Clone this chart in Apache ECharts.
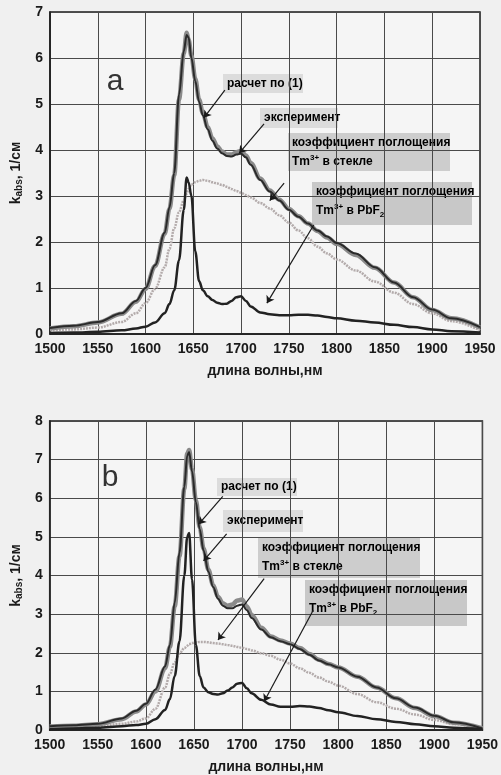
<!DOCTYPE html>
<html>
<head>
<meta charset="utf-8">
<script src="https://cdn.jsdelivr.net/npm/echarts@6/dist/echarts.min.js"></script>
<style>
  html, body { margin: 0; padding: 0; background: #f0f0f0; }
  #chart { width: 501px; height: 775px; }
</style>
</head>
<body>
<div id="chart"></div>
<script>
// длины волн, нм (общие для всех кривых)
const wl = [1500, 1525, 1550, 1575, 1590, 1600, 1610, 1620, 1625, 1630, 1635, 1640, 1643, 1645, 1648,
  1652, 1656, 1660, 1665, 1670, 1675, 1680, 1685, 1690, 1695, 1700, 1705, 1710, 1720, 1730, 1740,
  1750, 1760, 1770, 1780, 1790, 1800, 1820, 1840, 1860, 1880, 1900, 1920, 1950];

// панель a
const calcA = [0.13, 0.18, 0.26, 0.45, 0.72, 1.0, 1.5, 2.2, 2.75, 3.5, 5.2, 6.15, 6.5, 6.45, 6.0,
  5.5, 5.05, 4.75, 4.45, 4.2, 4.03, 3.93, 3.87, 3.86, 3.9, 3.92, 3.84, 3.68, 3.35, 3.1, 2.9,
  2.7, 2.55, 2.4, 2.25, 2.12, 1.98, 1.75, 1.45, 1.12, 0.8, 0.53, 0.34, 0.15];
const expA = [0.12, 0.17, 0.25, 0.44, 0.7, 0.98, 1.48, 2.18, 2.72, 3.45, 5.1, 6.1, 6.55, 6.4, 6.05,
  5.55, 5.1, 4.8, 4.5, 4.25, 4.08, 3.97, 3.9, 3.9, 3.95, 3.98, 3.88, 3.72, 3.38, 3.12, 2.92,
  2.72, 2.56, 2.4, 2.24, 2.1, 1.96, 1.72, 1.44, 1.12, 0.8, 0.52, 0.34, 0.14];
const glassA = [0.08, 0.1, 0.14, 0.26, 0.45, 0.67, 0.98, 1.45, 1.85, 2.3, 2.65, 2.9, 3.05, 3.15, 3.25,
  3.3, 3.33, 3.35, 3.33, 3.3, 3.27, 3.24, 3.2, 3.15, 3.11, 3.07, 3.02, 2.97, 2.85, 2.73, 2.58,
  2.42, 2.25, 2.08, 1.9, 1.75, 1.62, 1.38, 1.14, 0.9, 0.65, 0.45, 0.28, 0.08];
const pbfA = [0.02, 0.03, 0.05, 0.08, 0.12, 0.16, 0.25, 0.45, 0.65, 0.95, 1.6, 2.7, 3.4, 3.3, 3.0,
  1.8, 1.15, 0.95, 0.82, 0.74, 0.68, 0.65, 0.66, 0.72, 0.8, 0.82, 0.72, 0.6, 0.47, 0.43, 0.41,
  0.41, 0.42, 0.42, 0.4, 0.37, 0.34, 0.29, 0.25, 0.2, 0.15, 0.1, 0.06, 0.03];

// панель b
const calcB = [0.1, 0.12, 0.16, 0.3, 0.5, 0.68, 1.05, 1.65, 2.2, 3.3, 4.6, 6.3, 7.1, 7.2, 6.7,
  5.9, 5.2, 4.65, 4.1, 3.7, 3.4, 3.22, 3.15, 3.15, 3.22, 3.25, 3.1, 2.9, 2.6, 2.4, 2.3,
  2.22, 2.1, 1.95, 1.8, 1.7, 1.62, 1.38, 1.1, 0.82, 0.58, 0.37, 0.2, 0.04];
const expB = [0.09, 0.11, 0.15, 0.28, 0.48, 0.66, 1.0, 1.6, 2.15, 3.2, 4.5, 6.25, 7.15, 7.25, 6.75,
  5.95, 5.25, 4.7, 4.15, 3.75, 3.45, 3.28, 3.22, 3.25, 3.35, 3.38, 3.2, 2.98, 2.65, 2.42, 2.32,
  2.24, 2.12, 1.97, 1.82, 1.71, 1.62, 1.38, 1.1, 0.82, 0.57, 0.36, 0.19, 0.04];
const glassB = [0.06, 0.08, 0.1, 0.16, 0.22, 0.3, 0.55, 1.1, 1.45, 1.75, 1.98, 2.12, 2.18, 2.22, 2.25,
  2.27, 2.28, 2.28, 2.27, 2.25, 2.24, 2.22, 2.2, 2.18, 2.15, 2.13, 2.1, 2.06, 1.99, 1.92, 1.82,
  1.72, 1.6, 1.48, 1.36, 1.25, 1.15, 0.93, 0.72, 0.55, 0.4, 0.26, 0.15, 0.05];
const pbfB = [0.02, 0.04, 0.06, 0.1, 0.13, 0.16, 0.28, 0.52, 0.8, 1.4, 2.3, 4.0, 5.0, 5.1, 3.9,
  2.2, 1.4, 1.1, 0.98, 0.93, 0.92, 0.95, 1.02, 1.1, 1.2, 1.22, 1.08, 0.95, 0.78, 0.66, 0.6,
  0.6, 0.62, 0.61, 0.57, 0.51, 0.46, 0.36, 0.28, 0.21, 0.15, 0.1, 0.06, 0.02];

// стрелки подписей: [откуда, куда] в координатах данных
const arrowsA = [
  [[1683, 5.3], [1661, 4.7]],
  [[1724, 4.57], [1698, 3.93]],
  [[1745, 3.28], [1730, 2.9]],
  [[1776, 2.37], [1727, 0.67]]
];
const arrowsB = [
  [[1680, 6.05], [1655, 5.33]],
  [[1684, 5.08], [1660, 4.38]],
  [[1723, 3.92], [1675, 2.33]],
  [[1774, 3.1], [1723, 0.74]]
];

const chart = echarts.init(document.getElementById('chart'));

const pairs = (ys) => wl.map((x, i) => [x, ys[i]]);
const arrowLines = (list) => ({
  silent: true,
  animation: false,
  symbol: ['none', 'arrow'],
  symbolSize: 7,
  label: { show: false },
  lineStyle: { color: '#1a1a1a', width: 1.2, type: 'solid' },
  emphasis: { disabled: true },
  data: list.map(a => [{ coord: a[0] }, { coord: a[1] }])
});

const font = '"Liberation Sans", Arial, sans-serif';
const rich = {
  n: { fontFamily: font, fontSize: 12, fontWeight: 'bold', color: '#1a1a1a', lineHeight: 16 },
  sup: { fontFamily: font, fontSize: 8, fontWeight: 'bold', color: '#1a1a1a', lineHeight: 8, padding: [0, 0, 9, 0] },
  sub: { fontFamily: font, fontSize: 8, fontWeight: 'bold', color: '#1a1a1a', lineHeight: 8, padding: [7, 0, 0, 0] }
};

// подпись с серым фоном
function box(x, y, w, h, fill, lines) {
  const els = [{ type: 'rect', shape: { x, y, width: w, height: h }, style: { fill }, silent: true }];
  lines.forEach((t, i) => {
    els.push({
      type: 'text', silent: true,
      x: x + 4, y: y + (lines.length === 1 ? h / 2 : 10 + i * 19),
      style: { text: t, rich, textVerticalAlign: 'middle', textAlign: 'left' }
    });
  });
  return els;
}

const xAxisBase = (gi) => ({
  type: 'value', gridIndex: gi, min: 1500, max: 1950, interval: 50,
  name: 'длина волны,нм', nameLocation: 'middle', nameGap: 30,
  nameTextStyle: { fontFamily: font, fontSize: 14, fontWeight: 'bold', color: '#1a1a1a' },
  axisLine: { lineStyle: { color: '#1a1a1a', width: 1.5 } },
  axisTick: { show: false },
  axisLabel: { fontFamily: font, fontSize: 14, fontWeight: 'bold', color: '#1a1a1a', margin: 8,
    formatter: (v) => String(v) },
  splitLine: { lineStyle: { color: '#4a4a4a', width: 1 } }
});
const yAxisBase = (gi, max, gap) => ({
  type: 'value', gridIndex: gi, min: 0, max, interval: 1,
  name: '{k|k}{s|abs}{k|, 1/см}', nameLocation: 'middle', nameGap: gap,
  nameTextStyle: {
    rich: {
      k: { fontFamily: font, fontSize: 14, fontWeight: 'bold', color: '#1a1a1a', lineHeight: 16 },
      s: { fontFamily: font, fontSize: 10, fontWeight: 'bold', color: '#1a1a1a', lineHeight: 10, padding: [6, 0, 0, 0] }
    }
  },
  axisLine: { lineStyle: { color: '#1a1a1a', width: 1.5 } },
  axisTick: { show: false },
  axisLabel: { fontFamily: font, fontSize: 14, fontWeight: 'bold', color: '#1a1a1a', margin: 7 },
  splitLine: { lineStyle: { color: '#4a4a4a', width: 1 } }
});

const lineSeries = (gi, ys, color, width, type, z) => ({
  type: 'line', xAxisIndex: gi, yAxisIndex: gi, data: pairs(ys),
  showSymbol: false, smooth: 0.35, smoothMonotone: 'x', z,
  lineStyle: { color, width, type }, silent: true
});

const option = {
  backgroundColor: '#f0f0f0',
  animation: false,
  grid: [
    { left: 45, right: 21, top: 12, height: 322, show: true, backgroundColor: '#f5f5f5', borderColor: '#1a1a1a', borderWidth: 1.5 },
    { left: 40, right: 17, top: 421, height: 312, show: true, backgroundColor: '#f5f5f5', borderColor: '#1a1a1a', borderWidth: 1.5 }
  ],
  xAxis: [xAxisBase(0), xAxisBase(1)],
  yAxis: [yAxisBase(0, 7, 26), yAxisBase(1, 8, 24)],
  series: [
    lineSeries(0, glassA, '#b3abab', 2.5, [2, 1], 2),
    lineSeries(0, expA, '#8a8a8a', 4.5, 'solid', 3),
    lineSeries(0, calcA, '#2a2a2a', 2, 'solid', 4),
    Object.assign(lineSeries(0, pbfA, '#222222', 2.5, 'solid', 5), { markLine: arrowLines(arrowsA) }),
    lineSeries(1, glassB, '#b3abab', 2.5, [2, 1], 2),
    lineSeries(1, expB, '#8a8a8a', 4.5, 'solid', 3),
    lineSeries(1, calcB, '#2a2a2a', 2, 'solid', 4),
    Object.assign(lineSeries(1, pbfB, '#222222', 2.5, 'solid', 5), { markLine: arrowLines(arrowsB) })
  ],
  graphic: [
    { type: 'text', x: 115, y: 82, silent: true,
      style: { text: 'a', fontFamily: font, fontSize: 30, fill: '#333', textAlign: 'center', textVerticalAlign: 'middle' } },
    { type: 'text', x: 110, y: 478, silent: true,
      style: { text: 'b', fontFamily: font, fontSize: 30, fill: '#333', textAlign: 'center', textVerticalAlign: 'middle' } },
    ...box(223, 74, 80, 19, '#dcdcdc', ['{n|расчет по (1)}']),
    ...box(260, 108, 78, 20, '#dcdcdc', ['{n|эксперимент}']),
    ...box(288, 133, 162, 38, '#cdcdcd', ['{n|коэффициент поглощения}', '{n|Tm}{sup|3+}{n| в стекле}']),
    ...box(312, 182, 160, 43, '#c8c8c8', ['{n|коэффициент поглощения}', '{n|Tm}{sup|3+}{n| в PbF}{sub|2}']),
    ...box(217, 478, 80, 18, '#dcdcdc', ['{n|расчет по (1)}']),
    ...box(223, 510, 80, 22, '#dcdcdc', ['{n|эксперимент}']),
    ...box(258, 538, 162, 40, '#cdcdcd', ['{n|коэффициент поглощения}', '{n|Tm}{sup|3+}{n| в стекле}']),
    ...box(305, 580, 162, 46, '#c8c8c8', ['{n|коэффициент поглощения}', '{n|Tm}{sup|3+}{n| в PbF}{sub|2}'])
  ]
};

chart.setOption(option);
</script>
</body>
</html>
